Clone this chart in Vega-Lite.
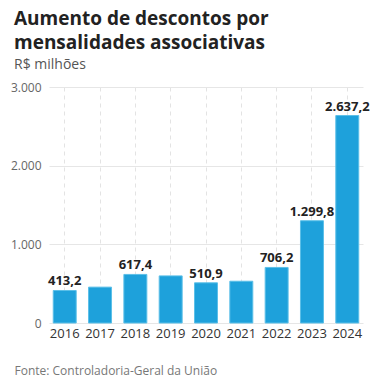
{
  "$schema": "https://vega.github.io/schema/vega-lite/v6.json",
  "width": 388,
  "height": 390,
  "autosize": {"type": "fit", "contains": "padding"},
  "padding": {"left": 10, "right": 22, "top": 10, "bottom": 14},
  "background": "white",
  "title": {
    "text": ["Aumento de descontos por", "mensalidades associativas"],
    "subtitle": "R$ milhões",
    "anchor": "start",
    "frame": "group",
    "offset": 9,
    "font": "Open Sans",
    "fontSize": 19,
    "fontWeight": "bold",
    "color": "#222222",
    "lineHeight": 24,
    "subtitleFont": "Open Sans",
    "subtitleFontSize": 14,
    "subtitleColor": "#555555",
    "subtitlePadding": 5,
    "dx": -35
  },
  "config": {
    "locale": {"number": {"decimal": ",", "thousands": ".", "grouping": [3], "currency": ["R$", ""]}},
    "view": {"stroke": null},
    "font": "Open Sans"
  },
  "data": {
    "values": [
      {"ano": "2016", "valor": 413.2, "rotulo": true},
      {"ano": "2017", "valor": 456, "rotulo": false},
      {"ano": "2018", "valor": 617.4, "rotulo": true},
      {"ano": "2019", "valor": 599, "rotulo": false},
      {"ano": "2020", "valor": 510.9, "rotulo": true},
      {"ano": "2021", "valor": 531, "rotulo": false},
      {"ano": "2022", "valor": 706.2, "rotulo": true},
      {"ano": "2023", "valor": 1299.8, "rotulo": true},
      {"ano": "2024", "valor": 2637.2, "rotulo": true}
    ]
  },
  "encoding": {
    "x": {
      "field": "ano",
      "type": "ordinal",
      "scale": {"paddingInner": 0.35, "paddingOuter": 0.12},
      "axis": {
        "title": "Fonte: Controladoria-Geral da União",
        "titleAnchor": "start",
        "titleAlign": "left",
        "titleX": -35,
        "titleY": 42,
        "titleFont": "Open Sans",
        "titleFontSize": 12,
        "titleFontWeight": "normal",
        "titleColor": "#777777",
        "labelAngle": 0,
        "labelFont": "Open Sans",
        "labelFontSize": 13,
        "labelColor": "#333333",
        "labelPadding": 4,
        "ticks": false,
        "domain": false,
        "grid": true,
        "gridDash": [4, 4],
        "gridColor": "#e3e3e3",
        "gridWidth": 1
      }
    },
    "y": {
      "field": "valor",
      "type": "quantitative",
      "scale": {"domain": [0, 3000]},
      "axis": {
        "title": null,
        "values": [0, 1000, 2000, 3000],
        "format": ",d",
        "labelFont": "Open Sans",
        "labelFontSize": 12,
        "labelColor": "#666666",
        "labelPadding": 8,
        "ticks": false,
        "domain": false,
        "gridColor": "#e6e6e6",
        "gridWidth": 1
      }
    }
  },
  "layer": [
    {
      "mark": {"type": "bar", "color": "#1ea1db", "stroke": "#5bbfe8", "strokeWidth": 1}
    },
    {
      "transform": [{"filter": "datum.rotulo"}],
      "mark": {"type": "text", "dy": -9, "font": "Open Sans", "fontSize": 13, "fontWeight": "bold", "color": "#222222"},
      "encoding": {
        "text": {"field": "valor", "type": "quantitative", "format": ",.1f"}
      }
    }
  ]
}
